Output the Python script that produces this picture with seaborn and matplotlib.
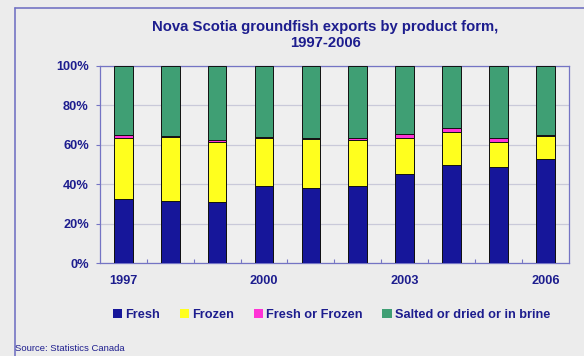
import matplotlib
matplotlib.use("Agg")
import matplotlib.pyplot as plt
from matplotlib.lines import Line2D
from matplotlib.patches import Patch
from matplotlib.ticker import FixedLocator, PercentFormatter
import numpy as np
import pandas as pd
import seaborn as sns

# Share of groundfish exports by product form (% of total)
years = ["1997", "1998", "1999", "2000", "2001", "2002", "2003", "2004", "2005", "2006"]
fresh = [32.3, 31.5, 31.0, 39.3, 38.2, 39.3, 45.3, 49.6, 48.9, 52.8]
frozen = [31.2, 32.3, 30.6, 24.3, 24.9, 23.3, 18.0, 16.7, 12.4, 11.5]
fresh_or_frozen = [1.6, 0.5, 1.0, 0.4, 0.4, 1.0, 2.2, 2.2, 2.2, 0.7]
salted = [34.9, 35.7, 37.4, 36.0, 36.5, 36.4, 34.5, 31.5, 36.5, 35.0]

series_names = ["Fresh", "Frozen", "Fresh or Frozen", "Salted or dried or in brine"]
series_colors = ["#16169a", "#ffff1e", "#ff33d6", "#3f9f74"]
labelled_years = ["1997", "2000", "2003", "2006"]

title_text = "Nova Scotia groundfish exports by product form,\n1997-2006"
source_text = "Source: Statistics Canada"

navy = "#1d1d8e"
frame_blue = "#7474c4"
bg = "#ececec"

sns.set_theme(style="white")
plt.rcParams["font.family"] = ["Liberation Sans", "DejaVu Sans"]

df = pd.DataFrame({"year": years, "Fresh": fresh, "Frozen": frozen,
                   "Fresh or Frozen": fresh_or_frozen,
                   "Salted or dried or in brine": salted})
stack = df[series_names].cumsum(axis=1)
stack["year"] = df["year"]

fig = plt.figure(figsize=(5.84, 3.56), dpi=100, facecolor=bg)
ax = fig.add_axes([0.171, 0.261, 0.803, 0.554])
ax.set_facecolor("#efefef")

# stacked bars: draw cumulative tops from the top segment downwards
for name, color in reversed(list(zip(series_names, series_colors))):
    sns.barplot(data=stack, x="year", y=name, color=color, width=0.4,
                edgecolor="#111111", linewidth=0.7, saturation=1, ax=ax,
                zorder=3)

ax.set_ylim(0, 100)
ax.set_xlim(-0.5, len(years) - 0.5)
ax.set_xlabel("")
ax.set_ylabel("")
ax.yaxis.set_major_locator(FixedLocator([0, 20, 40, 60, 80, 100]))
ax.yaxis.set_major_formatter(PercentFormatter(decimals=0))
ax.grid(axis="y", color="#c9c9d9", linewidth=0.9, zorder=0)
ax.set_axisbelow(True)

positions = [years.index(y) for y in labelled_years]
ax.set_xticks(positions)
ax.set_xticklabels(labelled_years)
ax.xaxis.set_minor_locator(FixedLocator(np.arange(0.5, len(years) - 0.5, 1.0)))
ax.tick_params(axis="x", which="major", length=0, pad=8.5, labelsize=9.2,
               labelcolor=navy)
ax.tick_params(axis="x", which="minor", length=3, width=0.8, color=frame_blue,
               direction="in", bottom=True)
ax.tick_params(axis="y", length=3, width=0.8, color=frame_blue, pad=5,
               labelsize=9.2, labelcolor=navy, left=True)
for lbl in ax.get_xticklabels() + ax.get_yticklabels():
    lbl.set_fontweight("bold")

for side in ["left", "bottom", "right", "top"]:
    ax.spines[side].set_color(frame_blue)
    ax.spines[side].set_linewidth(0.9)

fig.text(0.557, 0.903, title_text, ha="center", va="center", color=navy,
         fontsize=10.7, fontweight="bold", linespacing=1.18)

handles = [Patch(facecolor=c, edgecolor="none", label=n)
           for n, c in zip(series_names, series_colors)]
leg = fig.legend(handles=handles, loc="center", bbox_to_anchor=(0.568, 0.115),
                 ncol=4, frameon=False, handlelength=0.72, handleheight=0.72,
                 handletextpad=0.25, columnspacing=1.55,
                 prop={"weight": "bold", "size": 9.15})
for t in leg.get_texts():
    t.set_color(navy)

fig.text(0.025, 0.008, source_text, ha="left", va="bottom", color=navy,
         fontsize=6.8)

# outer panel edges
fig.add_artist(Line2D([0.025, 0.025], [0.0, 0.978], transform=fig.transFigure,
                      color=frame_blue, linewidth=1.2))
fig.add_artist(Line2D([0.025, 1.0], [0.978, 0.978], transform=fig.transFigure,
                      color=frame_blue, linewidth=1.2))

fig.savefig("out.png", dpi=100, facecolor=bg)
